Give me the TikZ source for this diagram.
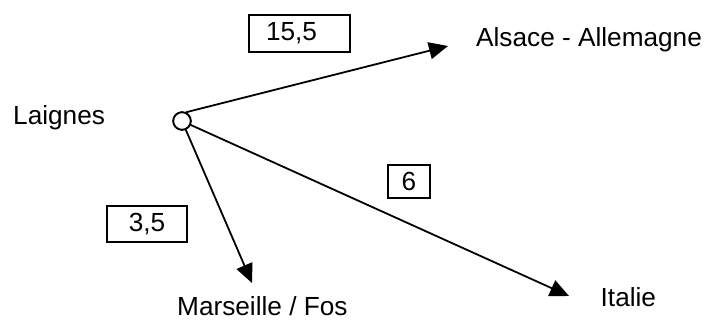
\documentclass[tikz,border=0pt]{standalone}
\usepackage{fontspec}
\setmainfont{Liberation Sans}
\usetikzlibrary{arrows.meta}
\begin{document}
\begin{tikzpicture}[x=1pt,y=-1pt,
  every node/.style={font=\fontsize{26.2}{30}\selectfont},
  lbl/.style={anchor=base west, inner sep=0pt},
  valbox/.style={draw, line width=1.8pt, inner sep=0pt},
  conn/.style={line width=1.8pt, -{Triangle[length=19pt,width=17pt]}},
  hub/.style={circle, draw, line width=1.8pt, fill=white, minimum size=17.5pt, inner sep=0pt}]
\useasboundingbox (0,0) rectangle (706,320);
\node[hub] (c) at (182,121) {};
\node[lbl] (laignes) at (13,124.3) {Laignes};
\node[lbl] (alsace) at (476,46.7) {Alsace - Allemagne};
\node[lbl] (marseille) at (177,315.3) {Marseille / Fos};
\node[lbl] (italie) at (600.5,306.5) {Italie};
\node[valbox, minimum width=101pt, minimum height=37pt, text width=101pt, align=left] (b1) at (299.5,33.5) {\hspace*{17pt}15,5};
\node[valbox, minimum width=80pt, minimum height=36pt] (b2) at (147,224) {3,5};
\node[valbox, minimum width=42pt, minimum height=33pt] (b3) at (409,181.5) {6};
\coordinate (tA) at (448,46);
\coordinate (tM) at (252,283);
\coordinate (tI) at (569,296);
\draw[conn] (c.65) -- (tA);
\draw[conn] (c) -- (tM);
\draw[conn] (c) -- (tI);
\node[hub] at (c) {};
\end{tikzpicture}
\end{document}
